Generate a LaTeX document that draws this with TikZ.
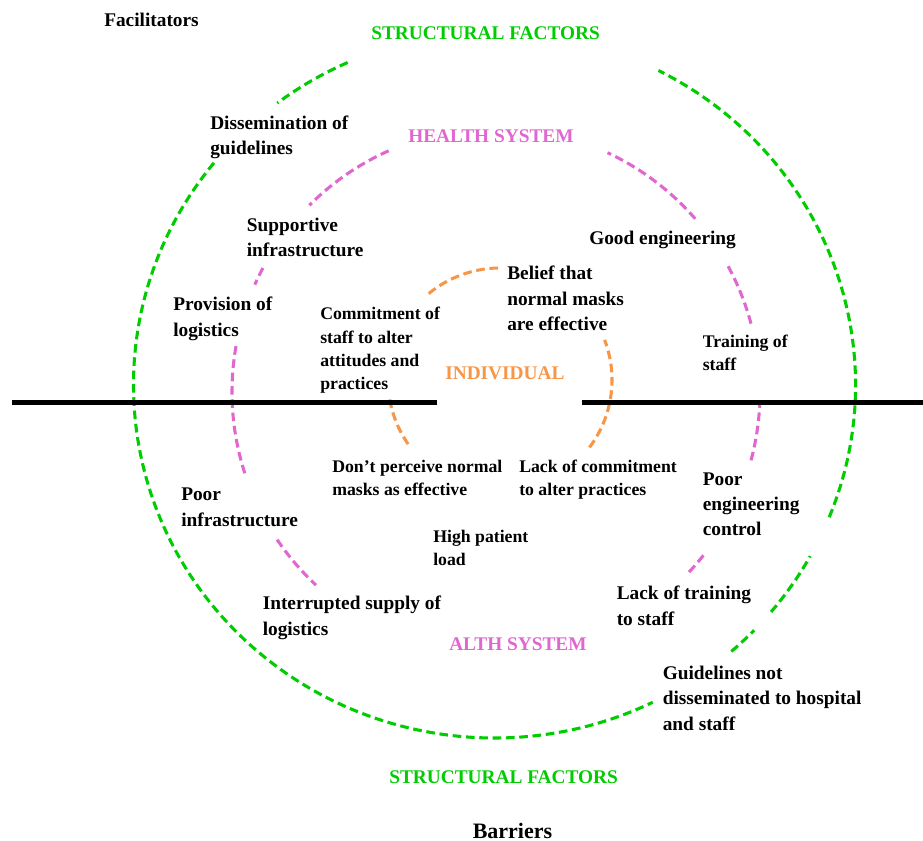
\documentclass[tikz,border=0pt]{standalone}
\usepackage{fontspec}
\setmainfont{Liberation Serif}
\definecolor{strgreen}{RGB}{0,204,0}
\definecolor{hspink}{RGB}{224,102,208}
\definecolor{indorange}{RGB}{247,150,70}
\begin{document}
\begin{tikzpicture}[x=0.75pt, y=-0.75pt,
  lbl/.style={anchor=north west, inner sep=0, align=left, font=\bfseries\fontsize{14.5}{18.9}\selectfont},
  lblsm/.style={lbl, font=\bfseries\fontsize{13.3}{17.5}\selectfont},
  ring/.style={line width=2.3pt, dash pattern=on 6.5pt off 3.5pt},
  divider/.style={line width=3.5pt}]
\useasboundingbox (0,0) rectangle (923,841);

\coordinate (gc) at (494.5,385);
\coordinate (pc) at (496,392);
\coordinate (oc) at (500,380);

\foreach \a/\b in {114/127,141/296,311/316,320/331,338/423}
  \draw[ring, strgreen] (gc) ++(-\a:361 and 353) arc[start angle=-\a, end angle=-\b, x radius=361, y radius=353];
\foreach \a/\b in {114/135,152/156,170/198,214/227,317/322,345/358,15/29,41/65}
  \draw[ring, hspink] (pc) ++(-\a:264) arc[start angle=-\a, end angle=-\b, radius=264];
\foreach \a/\b in {91/130,323/381,190/217}
  \draw[ring, indorange] (oc) ++(-\a:112) arc[start angle=-\a, end angle=-\b, radius=112];

\coordinate (l1) at (12,402.5);
\coordinate (l2) at (437,402.5);
\coordinate (r1) at (582,402.5);
\coordinate (r2) at (923,402.5);
\draw[divider] (l1) -- (l2);
\draw[divider] (r1) -- (r2);

\node[lbl] (fac) at (104,12.5) {Facilitators};
\node[lbl, text=strgreen] (sftop) at (371,26.5) {STRUCTURAL FACTORS};
\node[lbl] (dissem) at (210,115.5) {Dissemination of\\guidelines};
\node[lbl, text=hspink] (hstop) at (408,129) {HEALTH SYSTEM};
\node[lbl] (supp) at (246.5,218) {Supportive\\infrastructure};
\node[lbl] (prov) at (173,297) {Provision of\\logistics};
\node[lblsm] (commit) at (320,307) {Commitment of\\staff to alter\\attitudes and\\practices};
\node[lbl, text=indorange] (indiv) at (445,366) {INDIVIDUAL};
\node[lbl] (good) at (589,231) {Good engineering};
\node[lbl] (belief) at (507,266) {Belief that\\normal masks\\are effective};
\node[lblsm] (train) at (702.5,334.5) {Training of\\staff};
\node[lblsm] (dont) at (332,459.5) {Don’t perceive normal\\masks as effective};
\node[lblsm] (lackc) at (519,459.5) {Lack of commitment\\to alter practices};
\node[lbl] (poorinf) at (181,488) {Poor\\infrastructure};
\node[lblsm] (high) at (433,530) {High patient\\load};
\node[lbl] (pooreng) at (702.5,472.5) {Poor\\engineering\\control};
\node[lbl] (interr) at (262.5,596) {Interrupted supply of\\logistics};
\node[lbl] (lackt) at (616.5,586) {Lack of training\\to staff};
\node[lbl, text=hspink] (hsbot) at (449,637) {ALTH SYSTEM};
\node[lbl] (guid) at (662.5,666) {Guidelines not\\disseminated to hospital\\and staff};
\node[lbl, text=strgreen] (sfbot) at (389,770) {STRUCTURAL FACTORS};
\node[lbl, font=\bfseries\fontsize{16.5}{20}\selectfont] (barr) at (472.5,823) {Barriers};
\end{tikzpicture}
\end{document}
